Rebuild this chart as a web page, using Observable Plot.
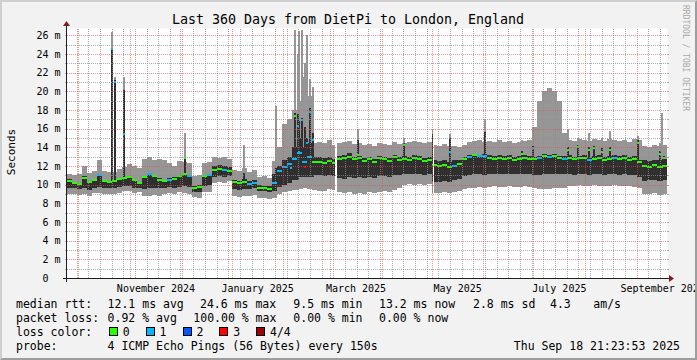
<!DOCTYPE html>
<html>
<head>
<meta charset="utf-8">
<script src="https://cdn.jsdelivr.net/npm/d3@7"></script>
<script src="https://cdn.jsdelivr.net/npm/@observablehq/plot@0.6"></script>
<style>
  html, body { margin: 0; padding: 0; background: #f2f2f2; overflow: hidden; }
  #chart { position: relative; width: 697px; height: 360px; }
  #chart svg { display: block; }
</style>
</head>
<body>
<div id="chart"></div>
<script>
// ---------------- data ----------------
const title = "Last 360 Days from DietPi to London, England";
const unitLabel = "Seconds";
const watermark = "RRDTOOL / TOBI OETIKER";
const endTime = new Date("2025-09-18T21:23:53Z");
const spanDays = 360;
const binDays = 3;

// smoke (ms): lowest ping, 2nd, 3rd, highest ping; median; lost pings per 3-day bin
const smokeMin = [
  9.0, 9.0, 8.9, 9.0, 8.8, 9.1, 9.1, 9.0, 9.0, 9.0,
  9.1, 9.3, 9.3, 9.1, 9.2, 8.8, 8.8, 8.9, 8.8, 9.0,
  9.1, 9.0, 9.2, 9.1, 9.0, 8.7, 8.6, 9.2, 9.2, 10.2,
  10.3, 10.2, 10.4, 8.8, 8.7, 8.8, 8.8, 8.9, 8.6, 8.6,
  8.5, 8.6, 9.0, 9.2, 9.3, 9.4, 9.5, 9.6, 9.5, 9.4,
  9.3, 9.3, 9.5, 9.4, 9.2, 9.1, 9.2, 9.0, 9.1, 9.0,
  9.2, 9.1, 9.2, 9.3, 9.2, 9.4, 9.6, 10.0, 10.1, 10.0,
  10.1, 10.0, 10.1, 9.1, 9.1, 9.2, 9.1, 9.2, 9.3, 9.5,
  9.6, 9.7, 9.8, 9.7, 9.8, 9.9, 9.8, 9.8, 9.9, 9.8,
  9.8, 9.9, 9.8, 9.6, 9.5, 9.5, 9.5, 9.6, 9.6, 9.7,
  9.9, 9.9, 10.0, 9.9, 9.9, 10.0, 9.9, 9.9, 9.9, 10.0,
  9.9, 9.9, 9.9, 9.8, 9.6, 9.0, 9.0, 9.1, 8.9, 9.0
];
const smokeLo = [
  9.6, 9.6, 9.5, 9.7, 9.4, 9.7, 9.8, 9.6, 9.6, 9.7,
  9.8, 9.9, 9.9, 9.7, 9.7, 9.5, 9.6, 9.7, 9.6, 9.7,
  9.8, 9.7, 9.8, 9.9, 9.8, 9.2, 9.2, 9.9, 10.0, 10.8,
  10.9, 10.8, 10.9, 9.5, 9.4, 9.5, 9.5, 9.6, 9.3, 9.3,
  9.2, 9.3, 9.8, 10.0, 10.2, 10.5, 10.8, 10.8, 10.8, 11.0,
  11.0, 10.9, 11.0, 10.9, 10.7, 10.6, 10.8, 10.7, 10.8, 10.7,
  10.8, 10.7, 10.9, 10.9, 10.8, 11.0, 11.0, 11.1, 11.2, 11.1,
  11.2, 11.0, 11.1, 10.3, 10.3, 10.4, 10.3, 10.5, 10.6, 10.9,
  11.0, 11.1, 11.1, 11.0, 11.1, 11.2, 11.1, 11.1, 11.2, 11.1,
  11.1, 11.2, 11.1, 11.0, 11.0, 11.1, 11.1, 11.2, 11.1, 11.1,
  11.1, 11.0, 11.1, 11.1, 11.0, 11.1, 11.1, 11.0, 11.1, 11.1,
  11.0, 11.1, 11.0, 11.0, 10.8, 10.4, 10.5, 10.5, 10.4, 10.5
];
const smokeHi = [
  10.6, 10.3, 10.2, 10.9, 10.4, 10.6, 11.0, 10.5, 10.4, 10.4,
  10.7, 10.8, 10.9, 10.6, 10.3, 10.9, 11.1, 11.0, 10.7, 10.5,
  10.7, 10.8, 11.0, 11.2, 11.0, 9.9, 10.0, 11.0, 11.1, 12.0,
  12.1, 12.0, 11.9, 10.5, 10.4, 10.6, 10.4, 10.5, 10.0, 9.9,
  9.9, 11.2, 12.0, 12.7, 13.0, 14.0, 15.0, 14.0, 14.5, 13.0,
  13.0, 12.9, 13.0, 12.8, 13.1, 13.2, 13.4, 13.0, 13.1, 12.9,
  13.0, 12.8, 13.1, 13.0, 12.9, 13.2, 13.0, 13.1, 13.0, 13.2,
  13.1, 12.9, 13.0, 12.6, 12.5, 12.6, 12.4, 12.6, 12.7, 13.0,
  13.2, 13.3, 13.2, 13.3, 13.2, 13.1, 13.2, 13.1, 13.2, 13.0,
  13.1, 13.2, 13.1, 13.0, 13.1, 13.3, 13.2, 13.3, 13.1, 13.1,
  13.2, 13.0, 13.1, 13.2, 13.0, 13.1, 13.2, 13.0, 13.1, 13.2,
  13.1, 13.2, 13.0, 13.1, 12.7, 12.6, 12.5, 12.7, 12.6, 12.8
];
const smokeMax = [
  11.2, 11.0, 11.1, 12.0, 11.3, 11.5, 12.6, 11.5, 11.4, 11.4,
  11.7, 11.9, 12.2, 12.0, 11.8, 12.8, 13.0, 12.7, 12.8, 12.6,
  12.3, 12.0, 12.5, 12.4, 12.3, 10.9, 11.0, 12.3, 12.4, 13.0,
  12.9, 13.0, 12.8, 11.6, 11.5, 11.8, 11.4, 11.6, 10.8, 10.9,
  10.7, 12.5, 14.0, 16.5, 17.0, 18.0, 19.0, 21.5, 19.5, 14.5,
  14.6, 14.5, 14.8, 14.3, 14.5, 14.6, 14.7, 14.4, 14.5, 14.3,
  14.4, 14.2, 14.5, 14.4, 14.3, 14.6, 14.4, 14.5, 14.6, 14.7,
  14.6, 14.5, 14.6, 14.3, 14.2, 14.4, 14.2, 14.1, 14.0, 14.3,
  14.6, 14.7, 14.8, 14.6, 14.7, 14.6, 14.8, 14.6, 14.7, 14.5,
  14.6, 14.7, 14.8, 16.2, 19.0, 20.0, 20.4, 20.1, 19.0, 15.5,
  14.8, 14.7, 14.9, 14.8, 14.7, 14.9, 14.8, 14.7, 14.9, 14.8,
  14.7, 14.8, 14.6, 14.9, 14.8, 14.2, 14.0, 14.3, 14.1, 14.3
];
const median = [
  10.5, 10.2, 10.1, 10.8, 10.3, 10.6, 11.1, 10.4, 10.3, 10.4,
  10.7, 10.8, 10.9, 10.6, 10.2, 10.9, 11.2, 11.0, 10.6, 10.5,
  10.6, 10.7, 11.0, 11.2, 11.0, 9.75, 9.8, 11.0, 11.1, 11.6,
  11.7, 11.6, 11.5, 10.3, 10.2, 10.3, 10.1, 10.2, 9.7, 9.7,
  9.6, 10.2, 11.5, 11.9, 12.3, 12.8, 13.5, 12.5, 13.0, 12.5,
  12.5, 12.4, 12.6, 12.4, 12.8, 12.9, 13.0, 12.8, 12.9, 12.6,
  12.8, 12.5, 12.9, 12.8, 12.6, 13.0, 12.7, 12.8, 12.7, 12.9,
  12.8, 12.6, 12.7, 12.2, 12.1, 12.2, 12.0, 12.1, 12.3, 12.8,
  13.0, 13.2, 13.1, 13.1, 12.9, 12.8, 12.9, 12.8, 12.9, 12.7,
  12.8, 12.9, 12.8, 12.8, 12.9, 13.1, 13.0, 13.1, 12.9, 12.8,
  12.9, 12.8, 12.9, 12.9, 12.7, 12.8, 12.9, 12.7, 12.8, 12.9,
  12.8, 12.9, 12.7, 12.8, 12.5, 12.1, 12.0, 12.2, 12.0, 12.1
];
const lossCount = [
  0, 0, 0, 0, 0, 0, 1, 0, 0, 0,
  0, 0, 0, 0, 0, 0, 1, 0, 0, 0,
  1, 0, 0, 0, 1, 0, 0, 0, 1, 0,
  0, 1, 0, 0, 0, 0, 1, 1, 0, 0,
  0, 1, 1, 1, 1, 1, 1, 1, 1, 0,
  0, 0, 0, 0, 0, 0, 0, 0, 0, 0,
  0, 0, 0, 0, 0, 0, 0, 0, 0, 0,
  0, 0, 0, 0, 0, 0, 0, 1, 0, 0,
  1, 0, 1, 1, 0, 0, 0, 0, 0, 0,
  0, 0, 0, 0, 1, 0, 1, 0, 0, 1,
  0, 0, 0, 0, 1, 0, 0, 0, 0, 1,
  0, 0, 0, 0, 0, 0, 0, 0, 0, 0
];

// short spikes (day offset from start of window)
const spikeDay  = [26.1, 27.9, 33.3, 70.2, 105.6, 124.5, 133.5, 135.9, 137.7, 138.6, 140.1, 141.9, 143.4, 144.9, 146.7, 174.0, 201.6, 219.0, 229.2, 249.9, 272.4, 279.0, 300.0, 306.0, 312.6, 315.6, 320.4, 325.2, 342.0, 355.2, 356.1, 357.6];
const spikeHi   = [24.7, 21.2, 20.2, 13.0, 11.3, 11.8, 13.0, 17.7, 17.6, 16.8, 17.2, 16.2, 15.0, 18.2, 15.5, 14.8, 14.5, 15.7, 15.0, 15.6, 13.6, 14.1, 14.0, 14.3, 14.0, 14.2, 13.9, 14.0, 14.8, 13.6, 12.5, 13.1];
const spikeMax  = [26.4, 21.6, 21.6, 15.5, 14.3, 18.4, 16.2, 26.6, 24.0, 26.5, 26.6, 23.0, 26.0, 21.3, 20.5, 16.0, 15.0, 16.0, 15.4, 17.0, 14.8, 15.0, 16.0, 15.0, 15.5, 14.9, 15.0, 15.8, 15.2, 14.5, 17.7, 14.3];
const spikeMed  = [24.6, 21.1, 15.5, 12.9, 10.3, 10.2, 11.8, 17.4, 16.4, 13.6, 17.0, 11.9, 14.5, 17.8, 14.8, 13.2, 14.3, 15.6, 13.6, 13.0, 13.4, 14.0, 13.8, 14.1, 13.8, 14.0, 13.6, 13.8, 14.5, 13.4, 12.0, 12.9];
const spikeLoss = [1, 1, 1, 0, 0, 1, 1, 0, 1, 1, 1, 3, 1, 1, 1, 0, 0, 0, 1, 1, 0, 1, 0, 0, 0, 0, 0, 0, 0, 0, 0, 0];

// missing data (day offsets)
const gapStart = [160.8, 219.6];
const gapEnd   = [161.8, 220.2];

// axes
const yTop = 26.8;
const yTickValues = [0, 2, 4, 6, 8, 10, 12, 14, 16, 18, 20, 22, 24, 26];
const yTickLabels = ["0\u00a0\u00a0", "2 m", "4 m", "6 m", "8 m", "10 m", "12 m", "14 m", "16 m", "18 m", "20 m", "22 m", "24 m", "26 m"];
const xLabelMonths = ["2024-11-01", "2025-01-01", "2025-03-01", "2025-05-01", "2025-07-01", "2025-09-01"];
const xLabels = ["November 2024", "January 2025", "March 2025", "May 2025", "July 2025", "September 2025"];

// legend
const legendRtt  = ["median rtt:", "12.1 ms avg", "24.6 ms max", "9.5 ms min", "13.2 ms now", "2.8 ms sd", "4.3", "am/s"];
const legendLoss = ["packet loss:", "0.92 % avg", "100.00 % max", "0.00 % min", "0.00 % now"];
const lossTitle  = "loss color:";
const lossLabels = ["0", "1", "2", "3", "4/4"];
const lossColors = ["#26ff00", "#00b8ff", "#0059ff", "#ff0000", "#a10000"];
const probeText  = ["probe:", "4 ICMP Echo Pings (56 Bytes) every 150s"];
const stamp = "Thu Sep 18 21:23:53 2025";

// ---------------- build ----------------
const DAY = 86400000;
const startTime = new Date(+endTime - spanDays * DAY);
const atDay = d => new Date(+startTime + d * DAY);

const bins = smokeMin.map((_, i) => ({
  x1: atDay(i * binDays), x2: atDay((i + 1) * binDays),
  min: smokeMin[i], lo: smokeLo[i], hi: smokeHi[i], max: smokeMax[i],
  med: median[i], loss: lossCount[i]
}));
const spikes = spikeDay.map((d, i) => {
  const b = bins[Math.floor(d / binDays)];
  return {x1: atDay(d), x2: atDay(d + 1.2), min: b.min, lo: b.lo,
          hi: spikeHi[i], max: spikeMax[i], med: spikeMed[i], loss: spikeLoss[i]};
});
const gaps = gapStart.map((g, i) => ({x1: atDay(g), x2: atDay(gapEnd[i])}));

const monthLines = d3.utcMonth.range(startTime, endTime);
const weekLines = d3.utcMonday.range(startTime, endTime).filter(d => d.getUTCDate() !== 1);
const yMinor = d3.range(1, 27, 2);
const yMajor = d3.range(2, 27, 2);
const xLabelDates = xLabelMonths.map(s => new Date(+new Date(s + "T00:00:00Z") + 15 * DAY));

const GRID = "#8f8f8f", MGRID = "#de4f4f";
const SMOKE_LIGHT = "#969696", SMOKE_DARK = "#2f2f2f";
const crisp = {shapeRendering: "crispEdges"};

const plot = Plot.plot({
  width: 697, height: 360,
  marginLeft: 67, marginRight: 30, marginTop: 28, marginBottom: 82,
  style: {background: "#f2f2f2", fontFamily: "'DejaVu Sans Mono', monospace", fontSize: "10px", color: "#000", overflow: "visible"},
  x: {type: "utc", domain: [startTime, endTime], axis: null},
  y: {domain: [0, yTop], axis: null},
  color: {type: "identity"},
  marks: [
    Plot.frame({fill: "#ffffff", stroke: "none"}),
    Plot.rect(bins, {x1: "x1", x2: "x2", y1: "min", y2: "max", fill: SMOKE_LIGHT, ...crisp}),
    Plot.rect(spikes, {x1: "x1", x2: "x2", y1: "min", y2: "max", fill: SMOKE_LIGHT, ...crisp}),
    Plot.rect(bins, {x1: "x1", x2: "x2", y1: "lo", y2: "hi", fill: SMOKE_DARK, ...crisp}),
    Plot.rect(spikes, {x1: "x1", x2: "x2", y1: "lo", y2: "hi", fill: SMOKE_DARK, ...crisp}),
    Plot.ruleY(bins, {x1: "x1", x2: "x2", y: "med", stroke: d => lossColors[d.loss], strokeWidth: 2, ...crisp}),
    Plot.ruleY(spikes, {x1: "x1", x2: "x2", y: "med", stroke: d => lossColors[d.loss], strokeWidth: 2, ...crisp}),
    Plot.rect(gaps, {x1: "x1", x2: "x2", fill: "#ffffff", ...crisp}),
    Plot.text(yTickValues, {y: d => d, text: (d, i) => yTickLabels[i], frameAnchor: "left", dx: -7,
                            textAnchor: "end", lineAnchor: "middle", fontSize: 10, fill: "#000"}),
    Plot.text(xLabelDates, {x: d => d, text: (d, i) => xLabels[i], frameAnchor: "bottom",
                            dy: 13.5, lineAnchor: "bottom", textAnchor: "middle", fontSize: 10, fill: "#000"})
  ]
});

document.getElementById("chart").appendChild(plot);

// ---------------- grid (from the plot's scales), frame, axes, texts ----------------
const svg = d3.select(plot);
const W = 697, H = 360;
const xsc = plot.scale("x"), ysc = plot.scale("y");
const lin = (s, v) => s.range[0] + (+v - +s.domain[0]) / (+s.domain[1] - +s.domain[0]) * (s.range[1] - s.range[0]);
const fx = v => (xsc.apply ? xsc.apply(v) : lin(xsc, v));
const fy = v => (ysc.apply ? ysc.apply(v) : lin(ysc, v));
const X0 = Math.round(fx(startTime)), X1 = Math.round(fx(endTime));
const Y0 = Math.round(fy(0)), Y1 = Math.round(fy(yTop));

const grid = svg.append("g").attr("shape-rendering", "crispEdges").attr("fill", "none");
const vline = (d, color, op) => {
  const x = Math.floor(fx(d)) + 0.5;
  grid.append("path").attr("d", `M${x},${Y0}V${Y1}`).attr("stroke", color)
    .attr("stroke-opacity", op).attr("stroke-dasharray", "1,1");
};
const hline = (v, color, op, stub) => {
  const y = Math.round(fy(v)) + 0.5;
  grid.append("path").attr("d", `M${X0},${y}H${X1}`).attr("stroke", color)
    .attr("stroke-opacity", op).attr("stroke-dasharray", "1,1");
  grid.append("path").attr("d", `M${X0 - stub},${y}H${X0}M${X1},${y}H${X1 + stub}`)
    .attr("stroke", color).attr("stroke-opacity", op);
};
weekLines.forEach(d => vline(d, GRID, 0.75));
yMinor.forEach(v => hline(v, GRID, 0.75, 2));
monthLines.forEach(d => vline(d, MGRID, 0.6));
yMajor.forEach(v => hline(v, MGRID, 0.6, 2));

const deco = svg.append("g").attr("text-anchor", "start");
// 3D shade border
deco.append("path").attr("d", `M0,0H${W}L${W-2},2H2V${H-2}L0,${H}Z`).attr("fill", "#cfcfcf");
deco.append("path").attr("d", `M${W},0V${H}H0L2,${H-2}H${W-2}V2Z`).attr("fill", "#9e9e9e");

// axis lines and arrows
deco.append("path").attr("d", `M${X0-4},${Y0+0.5}H${X1+3}`).attr("stroke", "#1f1f1f").attr("shape-rendering", "crispEdges");
deco.append("path").attr("d", `M${X0-0.5},${Y0+4}V${Y1-3}`).attr("stroke", "#1f1f1f").attr("shape-rendering", "crispEdges");
deco.append("path").attr("d", `M${X1+2},${Y0-3}L${X1+2},${Y0+4}L${X1+7},${Y0+0.5}Z`).attr("fill", "#801f1f");
deco.append("path").attr("d", `M${X0-4},${Y1-2}L${X0+3},${Y1-2}L${X0-0.5},${Y1-7}Z`).attr("fill", "#801f1f");

const mono = "'DejaVu Sans Mono', monospace";
// title
deco.append("text").attr("x", 348).attr("y", 23.5).attr("text-anchor", "middle")
  .attr("font-family", mono).attr("font-size", 13.3).attr("fill", "#000").text(title);
// unit label
deco.append("text").attr("transform", "translate(14.5,152) rotate(-90)").attr("text-anchor", "middle")
  .attr("font-family", mono).attr("font-size", 11).attr("fill", "#000").text(unitLabel);
// watermark
deco.append("text").attr("transform", "translate(683,5) rotate(90)").attr("text-anchor", "start")
  .attr("font-family", mono).attr("font-size", 8).attr("fill", "#a9a9a9").text(watermark);

// legend
const legFont = 11.5;
const row = (items, xs, y) => items.forEach((t, i) => {
  deco.append("text").attr("x", xs[i]).attr("y", y).attr("text-anchor", "start").attr("font-family", mono)
    .attr("font-size", legFont).attr("fill", "#000").style("white-space", "pre").text(t);
});
row(legendRtt, [16, 107.6, 200, 293.3, 379, 473, 550, 593.3], 307.5);
row(legendLoss, [16, 107.6, 193.3, 293.3, 379], 322);
row([lossTitle], [16], 336);
lossLabels.forEach((lab, i) => {
  const bx = 109 + i * 36.8;
  deco.append("rect").attr("x", Math.round(bx) + 0.5).attr("y", 327.5).attr("width", 8).attr("height", 8)
    .attr("fill", lossColors[i]).attr("stroke", "#000").attr("stroke-width", 1);
  deco.append("text").attr("x", bx + 13.8).attr("y", 336).attr("text-anchor", "start").attr("font-family", mono)
    .attr("font-size", legFont).attr("fill", "#000").text(lab);
});
row(probeText, [16, 107.6], 350);
deco.append("text").attr("x", 680).attr("y", 350).attr("text-anchor", "end").attr("font-family", mono)
  .attr("font-size", legFont).attr("fill", "#000").text(stamp);
</script>
</body>
</html>
